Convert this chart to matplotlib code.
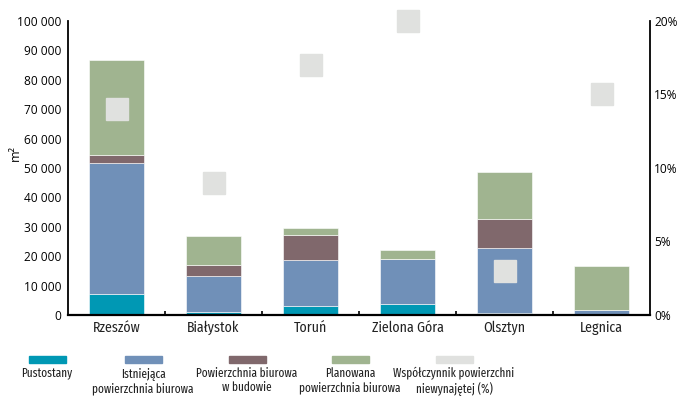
import matplotlib
matplotlib.use("Agg")
import matplotlib.pyplot as plt
from matplotlib.patches import Rectangle
from matplotlib.ticker import FuncFormatter, FixedLocator
from matplotlib import font_manager as fm
import numpy as np

cities = ["Rzeszów", "Białystok", "Toruń", "Zielona Góra", "Olsztyn", "Legnica"]

# thousand m2
vacant = [7.0, 0.9, 3.0, 3.6, 0.6, 0.0]
existing = [44.6, 12.3, 15.6, 15.4, 22.2, 1.8]
under_construction = [2.7, 3.8, 8.5, 0.0, 9.8, 0.0]
planned = [32.3, 9.8, 2.4, 3.2, 16.0, 15.0]
# vacancy rate, %
vacancy_rate = [14.0, 9.0, 17.0, 20.0, 3.0, 15.0]

labels = ["Pustostany", "Istniejąca\npowierzchnia biurowa",
          "Powierzchnia biurowa\nw budowie", "Planowana\npowierzchnia biurowa",
          "Współczynnik powierzchni\nniewynajętej (%)"]
colors = ["#0098b4", "#7090b8", "#80686c", "#a0b490", "#e0e1df"]


def font_file(family, fallback="DejaVu Sans"):
    # regular upright face of a family, if it is installed
    hits = [f.fname for f in fm.fontManager.ttflist
            if f.name == family and f.fname.endswith("-Regular.ttf")]
    if hits:
        return fm.FontProperties(fname=hits[0])
    return fm.FontProperties(family=fallback)


cond = font_file("Fira Sans Condensed")
xcond = font_file("Fira Sans Extra Condensed")
tick_font = ['Open Sans', 'DejaVu Sans']

fig = plt.figure(figsize=(6.81, 3.96), dpi=100)
ax = fig.add_axes([68 / 681, 1 - 315 / 396, (650 - 68) / 681, (315 - 21) / 396])

x = np.arange(len(cities))
series = [vacant, existing, under_construction, planned]
bottom = np.zeros(len(cities))
for vals, c in zip(series, colors[:4]):
    v = np.array(vals) * 1000
    ax.bar(x, v, 0.56, bottom=bottom, color=c, edgecolor="white", linewidth=0.4)
    bottom += v

ax.set_xlim(-0.5, len(cities) - 0.5)
ax.set_ylim(0, 100000)
ax.set_yticks(np.arange(0, 100001, 10000))
ax.yaxis.set_major_formatter(FuncFormatter(lambda v, p: f"{int(v):,}".replace(",", " ")))
ax.tick_params(axis="y", length=0, pad=5)
for t in ax.get_yticklabels():
    t.set_family(tick_font)
    t.set_fontsize(8.6)
ax.set_xticks(x)
ax.set_xticklabels(cities)
for t in ax.get_xticklabels():
    t.set_fontproperties(cond)
    t.set_fontsize(10)
    t.set_color("#222222")
ax.tick_params(axis="x", length=0, pad=4)
ax.xaxis.set_minor_locator(FixedLocator(x[:-1] + 0.5))
ax.tick_params(axis="x", which="minor", direction="in", length=3, width=1.2, color="black")
for s in ["top", "right"]:
    ax.spines[s].set_visible(False)
ax.spines["left"].set_linewidth(1.3)
ax.spines["bottom"].set_linewidth(1.6)
ax.set_ylabel("m²", fontsize=9, family=tick_font)
ax.yaxis.set_label_coords(-0.08, 0.55)

ax2 = ax.twinx()
ax2.set_ylim(0, 20)
ax2.set_yticks([0, 5, 10, 15, 20])
ax2.yaxis.set_major_formatter(FuncFormatter(lambda v, p: f"{int(v)}%"))
ax2.tick_params(axis="y", length=0, pad=3)
for t in ax2.get_yticklabels():
    t.set_family(tick_font)
    t.set_fontsize(8.6)
for s in ["top", "left", "bottom"]:
    ax2.spines[s].set_visible(False)
ax2.spines["right"].set_linewidth(1.3)
ax2.plot(x, vacancy_rate, linestyle="none", marker="s", markersize=16.5,
         color=colors[4], clip_on=False, zorder=5)

# legend below the chart
centres = [47, 143, 247, 350, 454]
for cx, lab, c in zip(centres, labels, colors):
    fig.patches.append(Rectangle(((cx - 18.5) / 681, 1 - 363 / 396), 37 / 681, 7 / 396,
                                 transform=fig.transFigure, color=c))
    fig.text(cx / 681, 1 - 367 / 396, lab, ha="center", va="top", color="#222222",
             fontproperties=xcond, fontsize=8.8, linespacing=1.2)

fig.savefig("out.png", dpi=100)
